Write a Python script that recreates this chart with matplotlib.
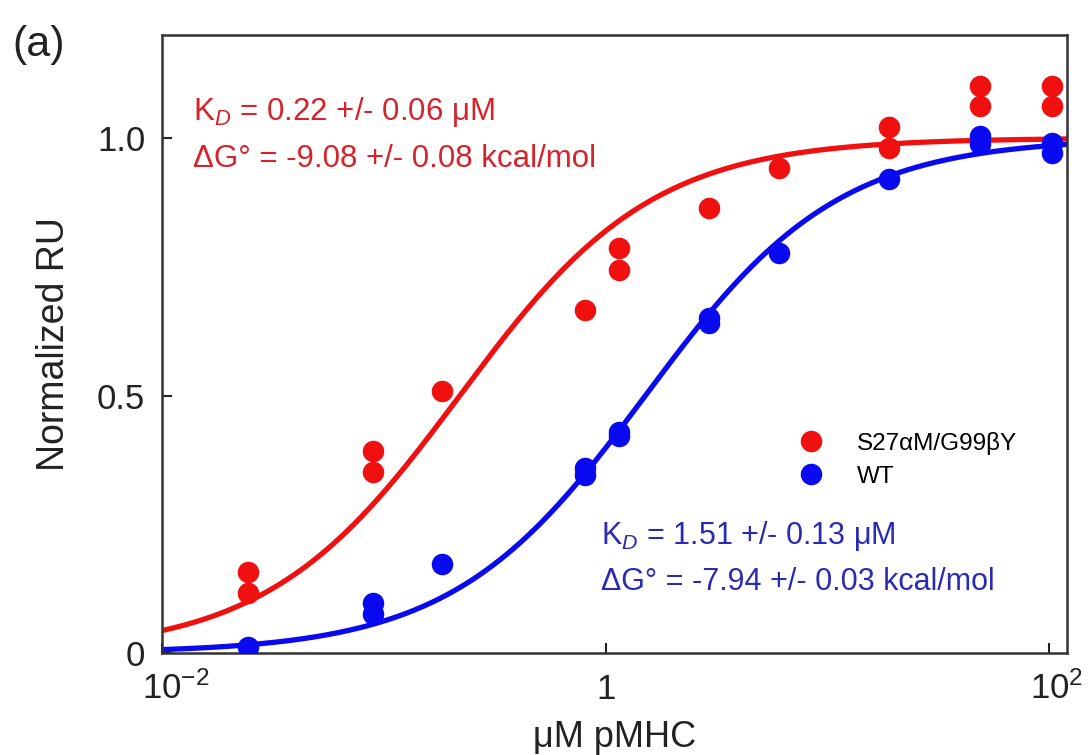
import numpy as np
import matplotlib
matplotlib.use("Agg")
import matplotlib.pyplot as plt
from matplotlib.transforms import ScaledTranslation

plt.rcParams["font.family"] = ["Liberation Sans", "DejaVu Sans"]
plt.rcParams["mathtext.fontset"] = "custom"
plt.rcParams["mathtext.rm"] = "Liberation Sans"
plt.rcParams["mathtext.it"] = "Liberation Sans:italic"

# concentrations (uM) and replicate responses
conc_mut = [0.0244, 0.0244, 0.0896, 0.0896, 0.183, 0.808, 1.15, 1.15, 2.93,
            6.05, 19.0, 19.0, 48.8, 48.8, 103, 103]
ru_mut = [0.157, 0.116, 0.393, 0.351, 0.508, 0.667, 0.787, 0.744, 0.864,
          0.942, 1.021, 0.981, 1.101, 1.062, 1.101, 1.062]

conc_wt = [0.0244, 0.0896, 0.0896, 0.183, 0.808, 0.808, 1.15, 1.15, 2.93, 2.93,
           6.05, 19.0, 48.8, 48.8, 103, 103]
ru_wt = [0.012, 0.097, 0.076, 0.172, 0.345, 0.36, 0.422, 0.43, 0.641, 0.65,
         0.777, 0.920, 1.004, 0.988, 0.990, 0.971]

kd_mut = 0.22
kd_wt = 1.51

red = "#f01010"
blue = "#0a0af0"
red_txt = "#d8222a"
blue_txt = "#2a2ab4"
ink = "#222222"

fig = plt.figure(figsize=(10.88, 7.55), dpi=100)
ax = fig.add_axes([0.1489, 0.1351, 0.9807 - 0.1489, 0.9536 - 0.1351])

xx = np.logspace(-2, np.log10(120), 400)
ax.plot(xx, xx / (xx + kd_mut), color=red, lw=3.8, zorder=2)
ax.plot(xx, xx / (xx + kd_wt), color=blue, lw=3.8, zorder=2)

ax.plot(conc_mut, ru_mut, "o", color=red, ms=15.5, mec="none", zorder=3,
        label="S27αM/G99βY")
ax.plot(conc_wt, ru_wt, "o", color=blue, ms=15.5, mec="none", zorder=3,
        label="WT")

ax.set_xscale("log")
ax.set_xlim(0.01, 120)
ax.set_ylim(0, 1.2)
ax.set_xticks([0.01, 1, 100])
ax.set_xticklabels(["$10^{-2}$", "1", "$10^{2}$"])
ax.xaxis.set_minor_locator(matplotlib.ticker.NullLocator())
ax.set_yticks([0, 0.5, 1.0])
ax.set_yticklabels(["0", "0.5", "1.0"])
ax.tick_params(direction="in", length=7, width=1.5, labelsize=25, colors=ink)
ax.tick_params(axis="y", pad=12)
ax.tick_params(axis="x", pad=33)
# common baseline for the x tick labels; the power labels sit with "10" on the tick
shifts = [10, 0, 5]
for lbl, dx in zip(ax.get_xticklabels(), shifts):
    lbl.set_verticalalignment("baseline")
    lbl.set_transform(lbl.get_transform() + ScaledTranslation(dx / 72, 0, fig.dpi_scale_trans))

for s in ax.spines.values():
    s.set_linewidth(1.8)
    s.set_color("#333333")

ax.set_xlabel("μM pMHC", fontsize=26, color=ink, labelpad=10)
ax.set_ylabel("Normalized RU", fontsize=27, color=ink, labelpad=18)

ax.text(0.034, 0.875, "K$_D$ = 0.22 +/- 0.06 μM", transform=ax.transAxes,
        fontsize=22.5, color=red_txt, va="center")
ax.text(0.034, 0.799, "ΔG° = -9.08 +/- 0.08 kcal/mol", transform=ax.transAxes,
        fontsize=22.5, color=red_txt, va="center")
ax.text(0.485, 0.19, "K$_D$ = 1.51 +/- 0.13 μM", transform=ax.transAxes,
        fontsize=22, color=blue_txt, va="center")
ax.text(0.485, 0.115, "ΔG° = -7.94 +/- 0.03 kcal/mol", transform=ax.transAxes,
        fontsize=22, color=blue_txt, va="center")

ax.legend(loc="center left", bbox_to_anchor=(0.685, 0.313), frameon=False,
          fontsize=17.5, handletextpad=1.4, labelspacing=0.45, numpoints=1,
          handlelength=1.0, borderpad=0.2)

fig.text(0.011, 0.94, "(a)", fontsize=31, color=ink, va="center")

fig.savefig("out.png", dpi=100, facecolor="white")
